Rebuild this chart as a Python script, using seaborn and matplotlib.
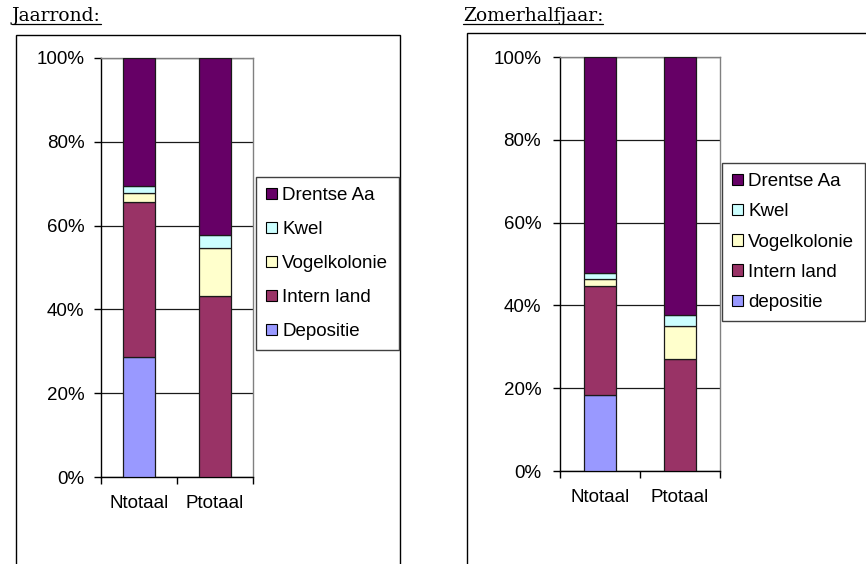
import matplotlib
matplotlib.use("Agg")
import matplotlib.pyplot as plt
from matplotlib.patches import Patch, Rectangle
from matplotlib.lines import Line2D
from matplotlib.ticker import FixedLocator, FuncFormatter
import seaborn as sns

# Categories and stacked shares (% of total load)
categories = ["Ntotaal", "Ptotaal"]
colors = ["#9999FF", "#993366", "#FFFFCC", "#CCFFFF", "#660066"]

jaar_names = ["Depositie", "Intern land", "Vogelkolonie", "Kwel", "Drentse Aa"]
jaar_depositie = [28.7, 0.0]
jaar_intern = [37.0, 43.3]
jaar_vogel = [2.0, 11.4]
jaar_kwel = [1.8, 3.1]
jaar_drentse = [30.5, 42.2]

zomer_names = ["depositie", "Intern land", "Vogelkolonie", "Kwel", "Drentse Aa"]
zomer_depositie = [18.3, 0.0]
zomer_intern = [26.5, 27.1]
zomer_vogel = [1.5, 8.0]
zomer_kwel = [1.6, 2.5]
zomer_drentse = [52.1, 62.4]

yticks = [0, 20, 40, 60, 80, 100]

sns.set_theme(style="white")
plt.rcParams["font.family"] = ["Liberation Sans", "DejaVu Sans"]

W, H = 866, 564
fig = plt.figure(figsize=(W / 100, H / 100), dpi=100)
fig.patch.set_facecolor("white")

FS = 13.5


def px_axes(x0, y0, x1, y1):
    return fig.add_axes([x0 / W, 1 - y1 / H, (x1 - x0) / W, (y1 - y0) / H])


def chart_box(x0, y0, x1, y1):
    fig.add_artist(Rectangle((x0 / W, 1 - y1 / H), (x1 - x0) / W, (y1 - y0) / H,
                             transform=fig.transFigure, fill=False,
                             edgecolor="black", linewidth=1.0, zorder=0))


def draw_panel(ax, series, names, legend_xy, labelspacing, ypad):
    bottom = [0.0] * len(categories)
    for vals, col in zip(series, colors):
        sns.barplot(x=categories, y=vals, bottom=bottom, color=col, width=0.41,
                    edgecolor="#1a1a1a", linewidth=0.9, errorbar=None,
                    saturation=1, ax=ax, zorder=3)
        bottom = [b + v for b, v in zip(bottom, vals)]

    ax.set_xlim(-0.5, 1.5)
    ax.set_ylim(0, 100)
    ax.yaxis.set_major_locator(FixedLocator(yticks))
    ax.yaxis.set_major_formatter(FuncFormatter(lambda v, p: f"{v:.0f}%"))
    ax.set_ylabel("")
    ax.set_xlabel("")
    ax.grid(axis="y", color="#1a1a1a", linewidth=0.9, zorder=0)
    ax.set_axisbelow(True)

    ax.tick_params(axis="y", which="major", direction="out", length=5, width=1,
                   color="black", pad=ypad, labelsize=FS, labelcolor="black", left=True)
    ax.xaxis.set_minor_locator(FixedLocator([-0.5, 0.5, 1.5]))
    ax.tick_params(axis="x", which="major", length=0, pad=13, labelsize=FS,
                   labelcolor="black")
    ax.tick_params(axis="x", which="minor", direction="out", length=5, width=1,
                   color="black", bottom=True)

    for side in ("left", "bottom"):
        ax.spines[side].set_color("black")
        ax.spines[side].set_linewidth(1.0)
    for side in ("top", "right"):
        ax.spines[side].set_color("#808080")
        ax.spines[side].set_linewidth(1.0)

    handles = [Patch(facecolor=c, edgecolor="black", linewidth=0.8) for c in colors][::-1]
    leg = ax.legend(handles, names[::-1], loc="upper left",
                    bbox_to_anchor=(legend_xy[0] / W, 1 - legend_xy[1] / H),
                    bbox_transform=fig.transFigure, frameon=True, fancybox=False,
                    shadow=False, framealpha=1, edgecolor="#404040",
                    fontsize=FS, handlelength=0.55, handleheight=0.55,
                    handletextpad=0.3, labelspacing=labelspacing,
                    borderpad=0.55, borderaxespad=0)
    leg.get_frame().set_linewidth(1.0)
    for t in leg.get_texts():
        t.set_color("black")


# Year-round panel
chart_box(16, 35, 400, 620)
ax1 = px_axes(101, 58, 253, 477)
draw_panel(ax1, [jaar_depositie, jaar_intern, jaar_vogel, jaar_kwel, jaar_drentse],
           jaar_names, (256, 177), 0.9, 7)

# Summer half-year panel
chart_box(467, 33, 900, 620)
ax2 = px_axes(560, 57, 720, 471)
draw_panel(ax2, [zomer_depositie, zomer_intern, zomer_vogel, zomer_kwel, zomer_drentse],
           zomer_names, (722, 163), 0.7, 8.5)

# Underlined panel titles
titles = [("Jaarrond:", 12), ("Zomerhalfjaar:", 463)]
title_texts = []
for label, x in titles:
    t = fig.text(x / W, 1 - 21 / H, label, family=["DejaVu Serif"], fontsize=13.5,
                 ha="left", va="baseline", color="black")
    title_texts.append(t)

fig.canvas.draw()
renderer = fig.canvas.get_renderer()
for t in title_texts:
    bb = t.get_window_extent(renderer)
    y_line = 1 - 24 / H
    fig.add_artist(Line2D([bb.x0 / W, bb.x1 / W], [y_line, y_line],
                          transform=fig.transFigure, color="black", linewidth=0.9))

fig.savefig("out.png", dpi=100)
